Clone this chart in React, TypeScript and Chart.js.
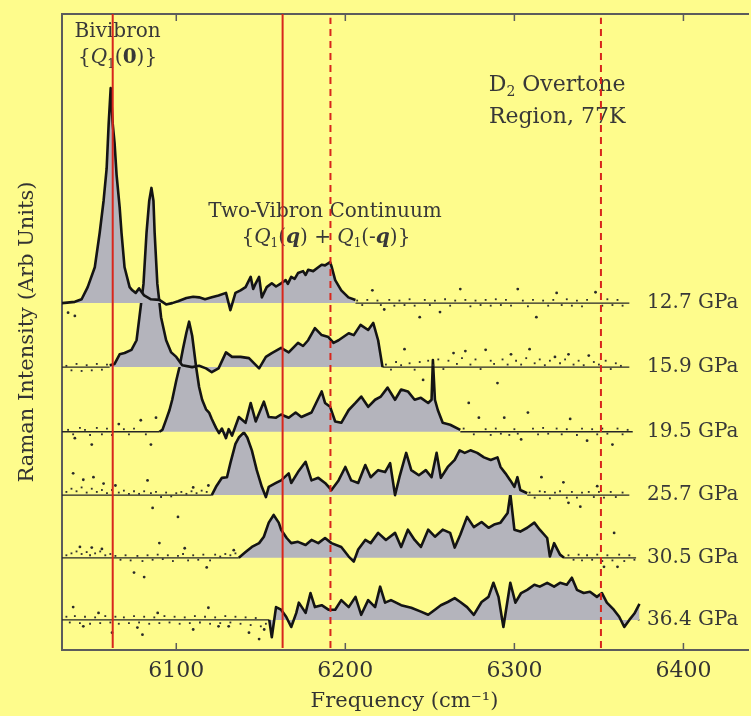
import React, { useEffect, useRef } from 'react';
import { Chart, registerables } from 'chart.js';

Chart.register(...registerables);
Chart.defaults.font.family = '"DejaVu Serif", serif';

// ---------- axis / layout values ----------
const X_MIN = 6032.4;
const X_MAX = 6437.6;
const Y_MAX = 9.9375;
const xTicks = [6100, 6200, 6300, 6400];

// ---------- series meta ----------
const pressures = ['12.7 GPa', '15.9 GPa', '19.5 GPa', '25.7 GPa', '30.5 GPa', '36.4 GPa'];
const offsets = [5.42, 4.42, 3.41, 2.42, 1.44, 0.47];
const traceEnd = [6368, 6368, 6370, 6368, 6372, 6373];

// ---------- reference lines ----------
const solidLines = [6062.4, 6162.9];
const dashedLines = [6191.2, 6351.2];

// ---------- spectra: [frequency cm-1, intensity above its baseline] ----------
const s1 = [[6032.4,0],[6040,0.02],[6044,0.06],[6047.6,0.25],[6051.8,0.56],[6054.7,1.1],[6057,1.6],[6058.8,2.1],[6060,2.8],[6061.2,3.36],[6062.4,2.8],[6063.5,2.5],[6064.7,2.0],[6066.5,1.5],[6067.6,1.1],[6069.4,0.56],[6072.4,0.25],[6074,0.2],[6076,0.16],[6078,0.23],[6081,0.12],[6085,0.06],[6090,0.05],[6094,-0.02],[6097.6,0],[6101,0.03],[6106,0.08],[6110,0.1],[6113.5,0.09],[6117,0.06],[6121,0.09],[6125,0.12],[6129.4,0.16],[6132,-0.11],[6135,0.16],[6138,0.2],[6141,0.25],[6144,0.41],[6145.5,0.22],[6147,0.31],[6149,0.41],[6150.6,0.09],[6153.5,0.25],[6156.5,0.31],[6159,0.26],[6162,0.31],[6164.7,0.36],[6166,0.3],[6168,0.41],[6170,0.38],[6172,0.47],[6175,0.5],[6176.5,0.44],[6178,0.52],[6181,0.5],[6184,0.56],[6186,0.6],[6188,0.59],[6191,0.64],[6192,0.56],[6194,0.36],[6197.6,0.2],[6201.8,0.09],[6206,0.05]];
const s2 = [[6060.6,0.03],[6063.5,0.05],[6066.5,0.2],[6069.4,0.22],[6073.5,0.27],[6076.5,0.42],[6078.2,0.78],[6080.6,1.3],[6082.4,2.1],[6084,2.6],[6085.3,2.8],[6086.5,2.6],[6087.2,2.1],[6088.8,1.3],[6091,0.78],[6094,0.42],[6097,0.23],[6100,0.16],[6103.5,0.03],[6109.4,0],[6113.5,0.02],[6117.6,-0.02],[6121,-0.08],[6125,-0.02],[6129.4,0.23],[6133,0.16],[6138,0.16],[6143,0.14],[6149,-0.02],[6153,0.16],[6156.5,0.22],[6162,0.3],[6166.5,0.23],[6172,0.38],[6175,0.33],[6178,0.42],[6182,0.61],[6186,0.5],[6190,0.47],[6193,0.38],[6196,0.42],[6202,0.53],[6205,0.5],[6209,0.66],[6213.5,0.58],[6216.5,0.69],[6219.4,0.42],[6222,0]];
const s3 = [[6090,0],[6091.8,0.03],[6094,0.19],[6096,0.34],[6097.6,0.5],[6100,0.8],[6101.8,1.0],[6104,1.3],[6106,1.55],[6107.6,1.72],[6109.4,1.5],[6111.8,1.0],[6113.5,0.7],[6115.3,0.5],[6117.6,0.35],[6119.4,0.3],[6121,0.2],[6123.5,0.06],[6125.3,-0.02],[6127,0.05],[6129.4,-0.1],[6131,0.04],[6133,-0.06],[6137,0.23],[6141,0.14],[6144,0.45],[6147,0.16],[6151.8,0.47],[6154.7,0.23],[6159,0.22],[6162,0.27],[6166.5,0.22],[6170.6,0.3],[6174,0.23],[6180,0.3],[6186,0.63],[6188,0.45],[6191,0.39],[6194,0.16],[6197.6,0.14],[6202,0.34],[6206,0.45],[6209.4,0.55],[6213.5,0.39],[6217.6,0.5],[6221,0.55],[6225,0.69],[6229.4,0.5],[6233,0.66],[6237,0.63],[6241,0.5],[6244.7,0.53],[6249,0.45],[6251,0.5],[6251.8,1.12],[6253,0.5],[6254.7,0.34],[6257.6,0.14],[6262,0.11],[6268,0.03]];
const s4 = [[6121,0],[6123.5,0.13],[6127,0.27],[6130,0.28],[6132,0.5],[6135,0.8],[6137,0.9],[6140,0.98],[6142,0.9],[6144.7,0.7],[6147.6,0.39],[6150.6,0.13],[6153,-0.03],[6154.7,0.13],[6159,0.19],[6162,0.23],[6166.5,0.34],[6168,0.19],[6172,0.36],[6176.5,0.52],[6180,0.23],[6184,0.27],[6188,0.19],[6191.8,0.08],[6196,0.23],[6200,0.44],[6203.5,0.23],[6207.6,0.19],[6211.8,0.47],[6215,0.28],[6219.4,0.39],[6223.5,0.36],[6226.5,0.5],[6229.4,0],[6232,0.28],[6236,0.66],[6239,0.39],[6243.5,0.31],[6247.6,0.39],[6251,0.28],[6254,0.66],[6256.5,0.27],[6260.6,0.44],[6264.7,0.55],[6267.6,0.7],[6270.6,0.66],[6274,0.7],[6278,0.66],[6282,0.59],[6286,0.55],[6290,0.59],[6291.8,0.44],[6294.7,0.34],[6297.6,0.23],[6300,0.13],[6301.8,0.28],[6303.5,0.08],[6307.6,0.03]];
const s5 = [[6137,0],[6141,0.09],[6144.7,0.17],[6149,0.23],[6151.8,0.33],[6154.7,0.55],[6157.6,0.67],[6160.6,0.55],[6162,0.44],[6165.3,0.31],[6168,0.23],[6172,0.25],[6176.5,0.2],[6180,0.28],[6184,0.23],[6188,0.31],[6191.8,0.23],[6197.6,0.17],[6202,0.02],[6205,-0.06],[6207.6,0.13],[6211.8,0.28],[6215,0.23],[6219.4,0.39],[6224,0.28],[6229.4,0.39],[6233,0.17],[6237,0.44],[6241,0.28],[6244.7,0.17],[6249,0.44],[6253,0.33],[6257.6,0.44],[6262,0.39],[6264.7,0.16],[6268,0.36],[6272,0.64],[6276,0.48],[6280.6,0.56],[6284.7,0.47],[6288,0.52],[6291.8,0.55],[6296,0.7],[6297.6,1.0],[6300,0.44],[6303.5,0.41],[6307.6,0.47],[6311.8,0.55],[6315,0.44],[6319.4,0.31],[6321,0.02],[6323.5,0.23],[6327,0.05],[6329.4,0]];
const s6 = [[6155,0],[6156.5,-0.27],[6159,0.2],[6162,0.16],[6165,0.05],[6168,-0.11],[6171,0.11],[6172.5,0.27],[6176.5,0.11],[6179.4,0.42],[6182,0.2],[6186,0.23],[6190,0.16],[6194,0.16],[6197.6,0.31],[6202,0.2],[6206,0.36],[6209.4,0.08],[6213.5,0.31],[6217.6,0.2],[6220.6,0.52],[6223.5,0.27],[6227,0.31],[6233,0.23],[6239,0.19],[6244.7,0.13],[6249,0.08],[6253,0.16],[6256.5,0.23],[6260.6,0.28],[6264.7,0.34],[6268,0.28],[6272,0.2],[6276,0.08],[6280.6,0.28],[6284.7,0.36],[6287.6,0.58],[6290.6,0.36],[6293.5,-0.11],[6297.6,0.58],[6300.6,0.27],[6304,0.42],[6307.6,0.47],[6311.8,0.55],[6315,0.52],[6319.4,0.58],[6323.5,0.52],[6327,0.58],[6331,0.55],[6334,0.66],[6337,0.47],[6341,0.42],[6344.7,0.44],[6348.8,0.36],[6351.8,0.42],[6354.7,0.27],[6358.8,0.16],[6362,0.05],[6365,-0.11],[6368,0],[6371,0.1],[6374,0.25]];

// ---------- scattered noise points (outliers): [frequency, intensity above baseline] ----------
const d1 = [[6036,-0.15],[6040,-0.2],[6216,0.2],[6223,-0.1],[6244,-0.22],[6256,-0.14],[6268,0.22],[6302,0.22],[6313,-0.22],[6325,0.16],[6348,0.17]];
const d2 = [[6235,0.28],[6246,-0.2],[6264,0.22],[6271,0.25],[6283,0.27],[6290,-0.25],[6298,0.2],[6309,0.28],[6324,0.16],[6332,0.2],[6344,0.18]];
const d3 = [[6040,-0.1],[6050,-0.2],[6066,0.12],[6079,0.18],[6085,-0.2],[6088,0.22],[6273,0.45],[6279,0.22],[6294,0.22],[6304,-0.12],[6308,0.3],[6333,0.2],[6343,-0.14],[6358,-0.2]];
const d4 = [[6039,0.34],[6045,0.24],[6051,0.28],[6057,0.18],[6064,0.15],[6083,0.23],[6086,-0.2],[6101,-0.34],[6110,0.12],[6119,0.15],[6316,0.28],[6329,0.2],[6332,-0.12],[6339,-0.18],[6349,0.14]];
const d5 = [[6043,0.17],[6050,0.16],[6056,0.14],[6075,-0.23],[6081,-0.3],[6090,0.23],[6105,0.15],[6118,-0.15],[6134,0.12],[6353,-0.14],[6359,0.39],[6361,-0.14]];
const d6 = [[6039,0.2],[6045,-0.1],[6054,0.11],[6062,-0.2],[6077,-0.12],[6080,-0.23],[6089,0.11],[6110,-0.15],[6119,0.19],[6125,-0.1],[6131,-0.1],[6143,-0.2],[6149,-0.3],[6152,-0.15]];

// ---------- fine grain hugging the baseline: [frequency, intensity above baseline] ----------
const g1 = [[6207,0.04],[6210,-0.03],[6213,0.05],[6219,0.04],[6221,-0.03],[6226,0.05],[6229,-0.04],[6232,0.04],[6235,-0.03],[6238,0.06],[6241,-0.04],[6247,0.05],[6250,-0.03],[6253,0.04],[6259,0.06],[6262,-0.04],[6265,0.04],[6271,0.05],[6274,-0.05],[6277,0.04],[6280,-0.03],[6283,0.05],[6286,-0.04],[6289,0.06],[6292,-0.03],[6295,0.05],[6298,-0.04],[6305,0.04],[6308,-0.05],[6311,0.05],[6317,0.04],[6320,-0.04],[6323,0.05],[6328,-0.03],[6331,0.06],[6334,-0.04],[6337,0.04],[6340,-0.05],[6343,0.05],[6352,-0.04],[6355,0.06],[6358,-0.03],[6361,0.05],[6364,-0.04]];
const g2 = [[6035,0.02],[6038,-0.05],[6041,0.05],[6044,-0.06],[6047,0.03],[6050,-0.05],[6053,0.05],[6056,-0.04],[6059,0.04],[6224,0.04],[6227,-0.04],[6230,0.08],[6233,0.03],[6238,0.06],[6241,-0.04],[6244,0.08],[6249,0.1],[6252,0.03],[6255,0.12],[6258,-0.03],[6261,0.1],[6266,0.05],[6269,0.14],[6274,0.04],[6277,0.12],[6280,-0.03],[6286,0.1],[6288,0.05],[6293,0.12],[6296,0.04],[6301,0.1],[6304,0.04],[6307,0.14],[6312,0.06],[6315,0.12],[6318,0.03],[6321,0.1],[6327,0.06],[6330,0.12],[6335,0.04],[6338,0.1],[6341,0.03],[6347,0.08],[6350,0.04],[6354,0.1],[6357,-0.03],[6360,0.06],[6363,0.02]];
const g3 = [[6036,0.03],[6039,-0.04],[6043,0.06],[6046,0.03],[6049,-0.05],[6053,0.06],[6056,-0.04],[6059,0.05],[6062,-0.05],[6069,0.04],[6072,-0.04],[6075,0.05],[6082,-0.04],[6270,0.05],[6276,-0.04],[6283,0.04],[6286,-0.05],[6289,0.05],[6292,-0.03],[6297,-0.05],[6300,0.04],[6302,-0.03],[6311,0.05],[6314,-0.04],[6317,0.06],[6320,-0.03],[6325,0.05],[6328,-0.04],[6331,0.04],[6337,-0.05],[6340,0.05],[6346,0.04],[6349,-0.04],[6352,0.05],[6355,-0.03],[6361,0.05],[6364,-0.04],[6367,0.03]];
const g4 = [[6035,0.05],[6038,0.1],[6041,0.06],[6044,0.12],[6047,0.04],[6050,0.1],[6053,0.05],[6056,0.08],[6059,0.03],[6062,0.08],[6066,0.04],[6069,0.07],[6072,0.02],[6075,0.06],[6078,0.02],[6081,0.06],[6085,0.03],[6088,0.05],[6091,-0.03],[6094,0.04],[6097,-0.02],[6100,0.03],[6103,0.05],[6106,0.02],[6109,0.06],[6112,0.03],[6115,0.07],[6118,0.05],[6309,0.04],[6312,-0.04],[6315,0.06],[6318,0.05],[6321,-0.05],[6324,0.04],[6327,0.06],[6331,-0.04],[6334,0.05],[6337,-0.04],[6340,0.04],[6344,0.05],[6347,-0.03],[6350,0.05],[6353,-0.04],[6357,0.05],[6360,-0.03],[6364,0.04]];
const g5 = [[6035,0.04],[6038,0.07],[6041,0.1],[6044,0.06],[6047,0.09],[6049,0.04],[6052,0.07],[6055,0.1],[6058,0.04],[6061,0.06],[6064,0.03],[6067,-0.03],[6070,0.04],[6073,-0.04],[6077,0.03],[6080,-0.05],[6083,0.04],[6086,-0.03],[6089,0.05],[6092,-0.02],[6095,0.04],[6098,-0.05],[6101,0.03],[6104,0.06],[6107,-0.04],[6110,0.04],[6113,-0.03],[6116,0.05],[6120,-0.04],[6123,0.05],[6126,0.02],[6129,0.06],[6132,0.04],[6135,0.07],[6332,0.04],[6335,-0.03],[6338,0.05],[6340,-0.04],[6343,0.04],[6346,-0.03],[6349,0.05],[6352,-0.05],[6355,0.04],[6358,-0.04],[6362,0.05],[6365,-0.05],[6368,0.04],[6371,-0.03]];
const g6 = [[6035,0.05],[6037,-0.04],[6040,0.06],[6043,-0.05],[6046,0.05],[6049,-0.06],[6052,0.04],[6055,-0.05],[6058,0.06],[6061,-0.04],[6064,0.05],[6066,-0.06],[6069,0.04],[6072,-0.05],[6075,0.06],[6078,-0.04],[6081,0.05],[6084,-0.06],[6087,0.04],[6090,-0.05],[6093,0.06],[6096,-0.04],[6099,0.05],[6102,-0.06],[6105,0.04],[6108,-0.05],[6111,0.06],[6114,-0.04],[6117,0.05],[6120,-0.06],[6123,0.04],[6126,-0.05],[6129,0.06],[6132,-0.04],[6135,0.05],[6138,-0.06],[6141,0.04],[6144,-0.08],[6147,0.03],[6150,-0.1],[6153,-0.06]];

const curves = [s1, s2, s3, s4, s5, s6];
const outliers = [d1, d2, d3, d4, d5, d6];
const grains = [g1, g2, g3, g4, g5, g6];

// ---------- styling ----------
const BG = '#fefc8c';
const FILL = '#b4b4bc';
const INK = '#141414';
const TEXT = '#383838';
const RED = '#d8261c';

type Seg = { t: string; i?: boolean; b?: boolean; sub?: boolean };

function drawRich(ctx: CanvasRenderingContext2D, segs: Seg[], cx: number, cy: number, size: number) {
  const font = (s: Seg) =>
    `${s.i ? 'italic ' : ''}${s.b ? 'bold ' : ''}${s.sub ? Math.round(size * 0.62) : size}px "DejaVu Serif"`;
  let w = 0;
  for (const s of segs) {
    ctx.font = font(s);
    w += ctx.measureText(s.t).width;
  }
  let x = cx - w / 2;
  ctx.textAlign = 'left';
  ctx.textBaseline = 'middle';
  for (const s of segs) {
    ctx.font = font(s);
    ctx.fillText(s.t, x, cy + (s.sub ? size * 0.32 : 0));
    x += ctx.measureText(s.t).width;
  }
}

const annotations: { segs: Seg[]; f: number; v: number; size: number }[] = [
  { segs: [{ t: 'Bivibron' }], f: 6065.3, v: 9.66, size: 20 },
  { segs: [{ t: '{' }, { t: 'Q', i: true }, { t: '1', sub: true }, { t: '(' }, { t: '0', b: true }, { t: ')}' }], f: 6065.3, v: 9.25, size: 20 },
  { segs: [{ t: 'Two-Vibron Continuum' }], f: 6188, v: 6.84, size: 20 },
  { segs: [{ t: '{' }, { t: 'Q', i: true }, { t: '1', sub: true }, { t: '(' }, { t: 'q', i: true, b: true }, { t: ') + ' }, { t: 'Q', i: true }, { t: '1', sub: true }, { t: '(-' }, { t: 'q', i: true, b: true }, { t: ')}' }], f: 6188.5, v: 6.44, size: 20 },
  { segs: [{ t: 'D' }, { t: '2', sub: true }, { t: ' Overtone' }], f: 6325.3, v: 8.83, size: 22 },
  { segs: [{ t: 'Region, 77K' }], f: 6325.3, v: 8.33, size: 22 },
];

const bgPlugin = {
  id: 'bgFill',
  beforeDraw(chart: any) {
    const { ctx } = chart;
    ctx.save();
    ctx.fillStyle = BG;
    ctx.fillRect(0, 0, chart.width, chart.height);
    ctx.restore();
  },
};

const decorPlugin = {
  id: 'decor',
  beforeDatasetsDraw(chart: any) {
    const { ctx, chartArea: a, scales } = chart;
    const x = scales.x;
    const y = scales.y;
    ctx.save();
    ctx.strokeStyle = '#5c5c5c';
    ctx.lineWidth = 2;
    ctx.beginPath();
    ctx.moveTo(a.right + 2, a.top);
    ctx.lineTo(a.left, a.top);
    ctx.lineTo(a.left, a.bottom);
    ctx.lineTo(a.right + 2, a.bottom);
    ctx.stroke();
    ctx.lineWidth = 1.5;
    for (const t of x.ticks) {
      const px = x.getPixelForValue(t.value);
      ctx.beginPath();
      ctx.moveTo(px, a.top);
      ctx.lineTo(px, a.top + 7);
      ctx.moveTo(px, a.bottom);
      ctx.lineTo(px, a.bottom - 7);
      ctx.stroke();
    }
    ctx.fillStyle = TEXT;
    for (const an of annotations) {
      drawRich(ctx, an.segs, x.getPixelForValue(an.f), y.getPixelForValue(an.v), an.size);
    }
    ctx.font = '20px "DejaVu Serif"';
    ctx.textAlign = 'left';
    ctx.textBaseline = 'middle';
    pressures.forEach((p, i) => {
      ctx.fillText(p, x.getPixelForValue(6378.5), y.getPixelForValue(offsets[i]));
    });
    ctx.restore();
  },
};

function buildDatasets() {
  const ds: any[] = [];
  solidLines.forEach((v) => {
    ds.push({
      data: [{ x: v, y: 0.03 }, { x: v, y: Y_MAX }],
      borderColor: RED,
      borderWidth: 2,
      pointRadius: 0,
      fill: false,
      order: 0,
    });
  });
  dashedLines.forEach((v) => {
    ds.push({
      data: [{ x: v, y: 0.03 }, { x: v, y: Y_MAX - 0.06 }],
      borderColor: RED,
      borderWidth: 2,
      borderDash: [7, 5],
      pointRadius: 0,
      fill: false,
      order: 0,
    });
  });
  curves.forEach((c, i) => {
    const off = offsets[i];
    const f0 = c[0][0];
    const f1 = c[c.length - 1][0];
    ds.push({
      data: c.map(([f, h]) => ({ x: f, y: h + off })),
      borderColor: INK,
      borderWidth: 2.6,
      borderJoinStyle: 'round',
      pointRadius: 0,
      fill: { value: off },
      backgroundColor: FILL,
      tension: 0,
      order: 1,
    });
    ds.push({
      data: [
        { x: X_MIN, y: off },
        { x: f0, y: off },
        { x: (f0 + f1) / 2, y: null },
        { x: f1, y: off },
        { x: traceEnd[i], y: off },
      ],
      borderColor: '#262626',
      borderWidth: 1.4,
      pointRadius: 0,
      fill: false,
      spanGaps: false,
      order: 2,
    });
    ds.push({
      data: outliers[i].map(([f, h]) => ({ x: f, y: h + off })),
      showLine: false,
      pointRadius: 1.4,
      pointBackgroundColor: '#2a2a2a',
      pointBorderWidth: 0,
      fill: false,
      order: 1,
    });
    ds.push({
      data: grains[i].map(([f, h]) => ({ x: f, y: h + off })),
      showLine: false,
      pointRadius: 1.3,
      pointStyle: 'rect',
      pointBackgroundColor: '#303030',
      pointBorderWidth: 0,
      fill: false,
      order: 1,
    });
  });
  return ds;
}

export default function App() {
  const ref = useRef<HTMLCanvasElement | null>(null);
  useEffect(() => {
    if (!ref.current) return;
    const chart = new Chart(ref.current, {
      type: 'line',
      data: { datasets: buildDatasets() },
      options: {
        animation: false,
        responsive: false,
        events: [],
        layout: { padding: { top: 14, left: 0, right: 0, bottom: 0 } },
        plugins: { legend: { display: false }, tooltip: { enabled: false } },
        scales: {
          x: {
            type: 'linear',
            min: X_MIN,
            max: X_MAX,
            afterBuildTicks: (s: any) => {
              s.ticks = xTicks.map((v) => ({ value: v }));
            },
            afterFit: (s: any) => {
              s.height = 66;
            },
            ticks: {
              autoSkip: false,
              maxRotation: 0,
              padding: 8,
              color: '#333',
              font: { family: '"DejaVu Serif"', size: 22 },
              callback: (v: any) => String(v),
            },
            grid: { display: false, drawTicks: false },
            border: { display: false },
            title: {
              display: true,
              text: 'Frequency (cm⁻¹)',
              color: '#333',
              font: { family: '"DejaVu Serif"', size: 21 },
              padding: { top: 0, bottom: 2 },
            },
          },
          y: {
            type: 'linear',
            min: 0,
            max: Y_MAX,
            afterFit: (s: any) => {
              s.width = 62;
            },
            ticks: { display: false },
            grid: { display: false, drawTicks: false },
            border: { display: false },
            title: {
              display: true,
              text: 'Raman Intensity (Arb Units)',
              color: '#333',
              font: { family: '"DejaVu Serif"', size: 21 },
              padding: { top: 15, bottom: 0 },
            },
          },
        },
      },
      plugins: [bgPlugin, decorPlugin],
    } as any);
    return () => chart.destroy();
  }, []);

  return (
    <div style={{ position: 'fixed', left: 0, top: 0, width: 751, height: 716, overflow: 'hidden', background: BG }}>
      <canvas ref={ref} width={751} height={716} style={{ display: 'block', width: 751, height: 716 }} />
    </div>
  );
}
